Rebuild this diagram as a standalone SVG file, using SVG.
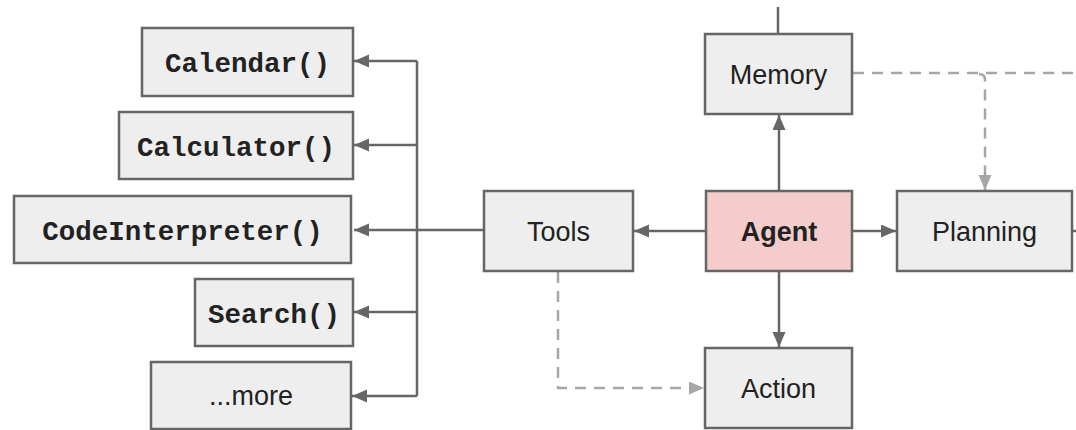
<svg xmlns="http://www.w3.org/2000/svg" width="1076" height="430" viewBox="0 0 1076 430">
<style>
.box{fill:#eeeeee;stroke:#666666;stroke-width:2.5}
.agent{fill:#f4cccc;stroke:#666666;stroke-width:2.5}
.sans{font-family:"Liberation Sans",Arial,sans-serif;font-size:27px;fill:#222222;text-anchor:middle}
.bold{font-weight:bold}
.mono{font-family:"Liberation Mono","Courier New",monospace;font-size:27.5px;font-weight:bold;fill:#222222;text-anchor:middle}
.line{fill:none;stroke:#666666;stroke-width:2.5}
.dash{fill:none;stroke:#a6a6a6;stroke-width:2.5;stroke-dasharray:11 8}
</style>
<defs>
<marker id="arr" markerUnits="userSpaceOnUse" markerWidth="16" markerHeight="14" refX="15" refY="6.5" orient="auto">
<path d="M0,0 L15,6.5 L0,13 z" fill="#666666"/>
</marker>
<marker id="arrLight" markerUnits="userSpaceOnUse" markerWidth="16" markerHeight="14" refX="15" refY="6.5" orient="auto">
<path d="M0,0 L15,6.5 L0,13 z" fill="#a6a6a6"/>
</marker>
</defs>
<g id="connectors">
<path class="line" d="M778,7 V34"/>
<path class="line" d="M1072,231 H1076"/>
<path class="line" d="M484,230 H354" marker-end="url(#arr)"/>
<path class="line" d="M417,61 V396"/>
<path class="line" d="M417,61 H354" marker-end="url(#arr)"/>
<path class="line" d="M417,145 H354" marker-end="url(#arr)"/>
<path class="line" d="M417,312 H354" marker-end="url(#arr)"/>
<path class="line" d="M417,396 H352" marker-end="url(#arr)"/>
<path class="line" d="M779,191 V115" marker-end="url(#arr)"/>
<path class="line" d="M779,271 V347" marker-end="url(#arr)"/>
<path class="line" d="M706,231 H634" marker-end="url(#arr)"/>
<path class="line" d="M852,231 H896" marker-end="url(#arr)"/>
<path class="dash" d="M853,73 H1076"/>
<path class="dash" d="M979,74 Q985,74 985,80 V190" marker-end="url(#arrLight)"/>
<path class="dash" d="M558,272 V388 H704" marker-end="url(#arrLight)"/>
</g>
<g id="calendar"><rect class="box" x="142" y="28" width="211" height="68"/><text class="mono" x="247.5" y="72">Calendar()</text></g>
<g id="calculator"><rect class="box" x="119" y="112" width="234" height="67"/><text class="mono" x="236" y="155.5">Calculator()</text></g>
<g id="codeinterpreter"><rect class="box" x="14" y="196" width="337" height="67"/><text class="mono" x="182.5" y="239.5">CodeInterpreter()</text></g>
<g id="search"><rect class="box" x="195" y="279" width="158" height="67"/><text class="mono" x="274" y="322.5">Search()</text></g>
<g id="more"><rect class="box" x="151" y="362" width="200" height="67"/><text class="sans" x="251" y="405">...more</text></g>
<g id="memory"><rect class="box" x="705" y="34" width="147" height="80"/><text class="sans" x="778.5" y="83.5">Memory</text></g>
<g id="tools"><rect class="box" x="484" y="191" width="149" height="80"/><text class="sans" x="558.5" y="240.5">Tools</text></g>
<g id="agent"><rect class="agent" x="706" y="191" width="146" height="80"/><text class="sans bold" x="779" y="240.5">Agent</text></g>
<g id="planning"><rect class="box" x="897" y="191" width="175" height="80"/><text class="sans" x="984.5" y="240.5">Planning</text></g>
<g id="action"><rect class="box" x="705" y="348" width="147" height="80"/><text class="sans" x="778.5" y="397.5">Action</text></g>
</svg>
